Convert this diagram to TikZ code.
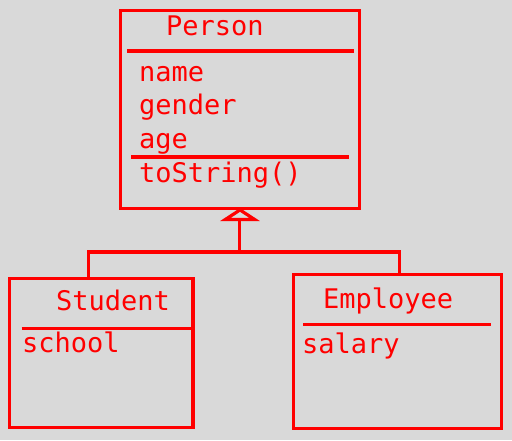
\documentclass[tikz,border=0pt]{standalone}
\usepackage{fontspec}
\newfontfamily\umlmono{DejaVu Sans Mono}
\definecolor{bg}{RGB}{217,217,217}
\begin{document}
\begin{tikzpicture}[x=1pt,y=-1pt,
  classbox/.style={draw=red,line width=3.2pt,rectangle,inner sep=0pt},
  sepline/.style={draw=red,line width=3.2pt},
  conn/.style={draw=red,line width=3.2pt},
  lbl/.style={anchor=base west,inner sep=0pt,text=red,font=\umlmono\fontsize{27}{30}\selectfont}]
\fill[bg] (0,0) rectangle (512,440);
\useasboundingbox (0,0) rectangle (512,440);
% boxes
\node[classbox,minimum width=239pt,minimum height=197.6pt] (person) at (240,109.5) {};
\node[classbox,minimum width=183.3pt,minimum height=148.4pt] (student) at (101.3,353) {};
\node[classbox,minimum width=208pt,minimum height=154.3pt] (employee) at (397.7,351.3) {};
% Person
\node[lbl] (pname) at (166,35) {Person};
\draw[sepline] (127,51) -- (354,51);
\node[lbl] (a1) at (139,81) {name};
\node[lbl] (a2) at (139,114) {gender};
\node[lbl] (a3) at (139,148) {age};
\draw[sepline] (131,157) -- (349,157);
\node[lbl] (m1) at (139,182) {toString()};
% Student
\node[lbl] (sname) at (56,310) {Student};
\draw[sepline] (21.7,328.3) -- (193,328.3);
\node[lbl] (s1) at (22,352) {school};
% Employee
\node[lbl] (ename) at (323,308) {Employee};
\draw[sepline] (303.3,324.3) -- (490.7,324.3);
\node[lbl] (e1) at (302,353) {salary};
% connectors
\coordinate (hub) at (239.5,252);
\coordinate (tribase) at ([yshift=-9.5pt]person.south);
\draw[conn] ([xshift=80.3pt]student.north west) |- (hub);
\draw[conn] ([xshift=107.3pt]employee.north west) |- (hub);
\draw[conn] (hub) -- (tribase -| hub);
\draw[conn,line join=miter] (person.south) -- ([xshift=-14.5pt]tribase) -- ([xshift=14.5pt]tribase) -- cycle;
\end{tikzpicture}
\end{document}
